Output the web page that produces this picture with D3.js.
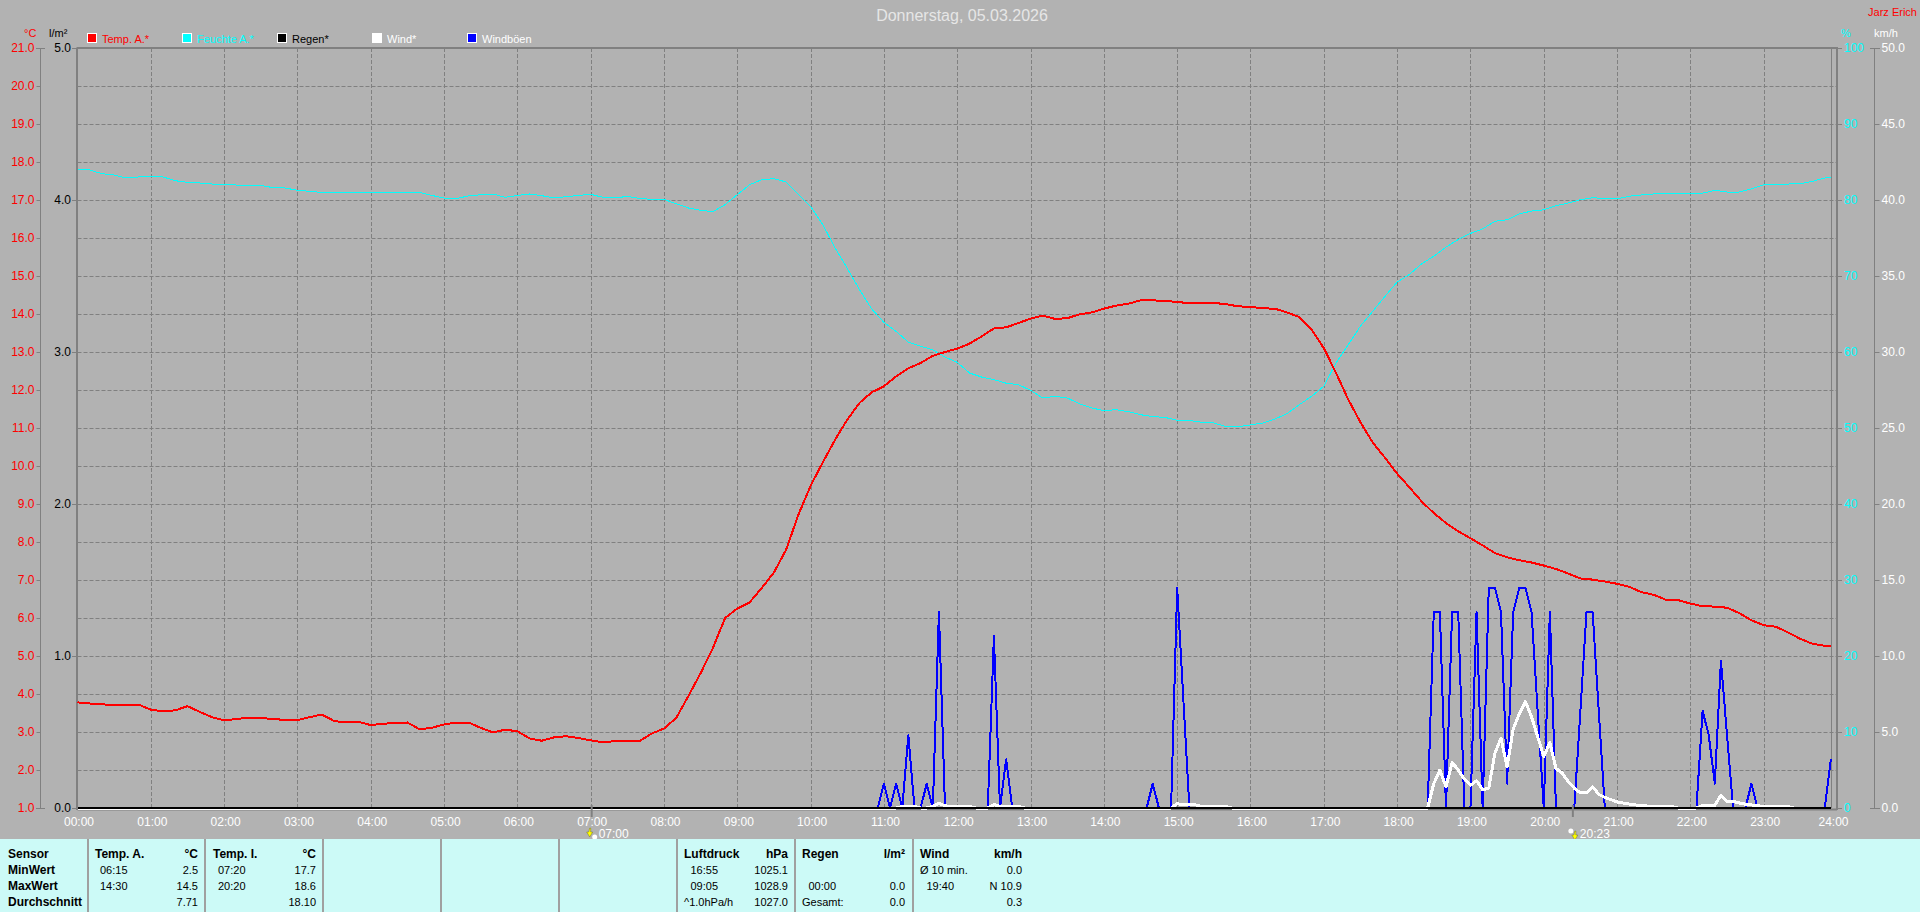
<!DOCTYPE html>
<html><head><meta charset="utf-8">
<script src="https://cdn.jsdelivr.net/npm/d3@7"></script>
<style>
html,body{margin:0;padding:0;background:#b2b2b2;overflow:hidden}
svg{display:block}
text{font-family:"Liberation Sans",Arial,sans-serif;font-size:11px}
</style></head><body>
<script>
// Temperature (°C), every 10 minutes, last sample 23:55
const tempValues=[
3.78,3.75,3.73,3.70,3.71,3.72, 3.59,3.54,3.57,3.68,3.53,3.39,
3.31,3.34,3.38,3.36,3.35,3.31, 3.31,3.39,3.46,3.29,3.25,3.27,
3.18,3.22,3.23,3.25,3.07,3.11, 3.20,3.25,3.25,3.11,2.99,3.06,
3.02,2.83,2.77,2.86,2.89,2.84, 2.78,2.73,2.76,2.75,2.76,2.96,
3.09,3.37,3.95,4.55,5.21,6.0, 6.25,6.41,6.79,7.2,7.8,8.72,
9.48,10.1,10.69,11.22,11.66,11.94, 12.1,12.36,12.57,12.71,12.9,13.0,
13.09,13.22,13.41,13.62,13.65,13.76, 13.88,13.96,13.87,13.89,13.99,14.04,
14.14,14.22,14.27,14.36,14.36,14.34, 14.32,14.28,14.28,14.29,14.26,14.2,
14.19,14.15,14.14,14.04,13.92,13.59, 13.1,12.45,11.75,11.15,10.62,10.22,
9.8,9.44,9.07,8.76,8.5,8.28, 8.1,7.91,7.71,7.6,7.52,7.46,
7.38,7.29,7.17,7.04,7.01,6.96, 6.9,6.82,6.68,6.61,6.48,6.47,
6.38,6.31,6.3,6.27,6.13,5.94, 5.81,5.77,5.62,5.45,5.32,5.27,5.27];
// Humidity (%), same sampling
const humValues=[
83.95,83.95,83.46,83.29,82.9,83.03, 83.03,83.03,82.54,82.32,82.24,82.1,
82.1,81.97,81.97,81.93,81.62,81.58, 81.27,81.14,81,81,81,81,
81,81,81,81,81,80.6, 80.26,80.2,80.53,80.7,80.79,80.35,
80.6,80.79,80.57,80.26,80.44,80.6, 80.75,80.35,80.26,80.48,80.2,80.09,
80.09,79.5,78.95,78.64,78.46,79.39, 80.7,82,82.68,82.8,82.37,80.7,
79.17,76.75,73.7,71,68.2,65.66, 63.9,62.7,61.3,60.75,60.3,59.34,
58.64,57.24,56.7,56.36,55.9,55.7, 54.96,53.95,54.17,53.95,53.2,52.63,
52.3,52.4,52.15,51.75,51.5,51.4, 51,51,50.75,50.66,50.2,50.18,
50.4,50.66,51.18,51.9,53.07,54.17, 55.5,58.55,60.96,63.4,65.35,67.3,
69.2,70.2,71.6,72.6,73.8,74.8, 75.6,76.2,77.2,77.4,78.16,78.55,
78.7,79.25,79.6,80.04,80.3,80.2, 80.13,80.5,80.66,80.8,80.9,80.9,
80.8,80.9,81.27,81.05,81.05,81.45, 82,82.1,82.1,82.15,82.46,82.9,82.9];
const sampleMinutes=d3.range(0,1440,10).concat([1435]);

// Gusts (km/h)
const gustTimes=["00:00","10:55","11:00","11:05","11:10","11:15","11:20","11:25","11:30","11:35","11:40","11:45","11:50",
"12:25","12:30","12:35","12:40","12:45","14:35","14:40","14:45","14:55","15:00","15:05","15:10",
"18:25","18:30","18:35","18:40","18:45","18:50","18:55","19:00","19:05","19:10","19:15","19:20","19:25","19:30","19:35","19:40","19:45","19:50","19:55","20:00","20:05","20:10",
"20:25","20:30","20:35","20:40","20:45","20:50","22:05","22:10","22:15","22:20","22:25","22:30","22:35","22:45","22:50","22:55","23:50","23:55"];
const gustValues=[0,0,1.6,0,1.6,0,4.8,0,0,1.6,0,12.9,0,
0,11.3,0,3.2,0,0,1.6,0,0,14.5,7.2,0,
0,12.9,12.9,0,12.9,12.9,0,0,12.9,0,14.5,14.5,12.9,1.6,12.9,14.5,14.5,12.9,6.4,0,12.9,0,
0,6.4,12.9,12.9,6.4,0,0,6.4,4.8,1.6,9.7,4.8,0,0,1.6,0,0,3.2];

// Wind (km/h)
const windTimes=["00:00","11:10","11:15","11:25","11:30","11:35","11:40","11:45","11:50","11:55","12:10","12:15","12:25","12:30","12:35","12:50","12:55","14:55","15:00","15:05","15:15","15:20","15:40","15:45",
"18:25","18:30","18:35","18:40","18:45","18:50","18:55","19:00","19:05","19:10","19:15","19:20","19:25","19:30","19:35","19:40","19:45","19:50","19:55","20:00","20:05","20:10","20:15","20:20","20:25","20:30","20:35","20:40","20:45","20:50","20:55","21:00","21:05","21:10","21:15","21:20","21:25","21:45","21:50",
"22:05","22:10","22:20","22:25","22:30","22:35","22:40","22:45","22:50","22:55","23:00","23:20","23:25"];
const windValues=[0,0,0.1,0.1,0,0,0.1,0.3,0.15,0.1,0.1,0,0,0.22,0.12,0.1,0,0,0.28,0.22,0.2,0.1,0.1,0,
0,1.6,2.5,1.4,3.0,2.5,1.9,1.5,1.8,1.2,1.3,3.6,4.6,2.7,5.2,6.2,7.0,6.0,4.7,3.4,4.3,2.6,2.3,1.75,1.3,1.0,1.0,1.4,0.9,0.7,0.55,0.4,0.33,0.26,0.2,0.15,0.13,0.1,0,
0,0.17,0.17,0.85,0.4,0.44,0.33,0.25,0.2,0.15,0.1,0.1,0];

// Rain (l/m²)
const rainTimes=["00:00","23:55"];
const rainValues=[0,0];

const hourLabels=["00:00","01:00","02:00","03:00","04:00","05:00","06:00","07:00","08:00","09:00","10:00","11:00","12:00","13:00","14:00","15:00","16:00","17:00","18:00","19:00","20:00","21:00","22:00","23:00","24:00"];
const tempTicks=[1,2,3,4,5,6,7,8,9,10,11,12,13,14,15,16,17,18,19,20,21];
const rainTicks=[0,1,2,3,4,5];
const humTicks=[0,10,20,30,40,50,60,70,80,90,100];
const windTicks=[0,5,10,15,20,25,30,35,40,45,50];
const legendNames=["Temp. A.*","Feuchte A.*","Regen*","Wind*","Windböen"];
const legendColors=["#ff0000","#00ffff","#000000","#ffffff","#0000ff"];
const legendTextColors=["#ff0000","#00ffff","#000000","#ffffff","#ffffff"];
const sunEvents=["07:00","20:23"];
const footerRows=["Sensor","MinWert","MaxWert","Durchschnitt"];

const mins=s=>{const [h,m]=s.split(":").map(Number);return h*60+m;};
const GRAY="#808080";
const L=77.5,R=1837,T=48,B=808;
const x=d3.scaleLinear().domain([0,1440]).range([L,R]);
const yTemp=d3.scaleLinear().domain([1,21]).range([B,T]);
const yRain=d3.scaleLinear().domain([0,5]).range([B,T]);
const yHum=d3.scaleLinear().domain([0,100]).range([B,T]);
const yWind=d3.scaleLinear().domain([0,50]).range([B,T]);

const svg=d3.select("body").append("svg").attr("width",1920).attr("height",912);
svg.append("rect").attr("width",1920).attr("height",912).attr("fill","#b2b2b2");

// grid
const dash="4,2";
svg.append("g").selectAll("line").data(tempTicks.slice(1,-1)).join("line")
 .attr("x1",L).attr("x2",R).attr("y1",d=>Math.round(yTemp(d))+.5).attr("y2",d=>Math.round(yTemp(d))+.5)
 .attr("stroke",GRAY).attr("stroke-dasharray",dash);
svg.append("g").selectAll("line").data(hourLabels.slice(1,-1)).join("line")
 .attr("x1",d=>Math.round(x(mins(d)))+.5).attr("x2",d=>Math.round(x(mins(d)))+.5).attr("y1",T).attr("y2",B)
 .attr("stroke",GRAY).attr("stroke-dasharray",dash);

// frame
svg.append("g").attr("stroke",GRAY).attr("fill","none").call(g=>{
 g.append("line").attr("x1",L-1).attr("x2",R+1).attr("y1",T).attr("y2",T).attr("stroke-width",2);
 g.append("line").attr("x1",77).attr("x2",77).attr("y1",T).attr("y2",B+2).attr("stroke-width",2);
 g.append("line").attr("x1",R).attr("x2",R).attr("y1",T).attr("y2",B+2).attr("stroke-width",2);
 g.append("line").attr("x1",L).attr("x2",R).attr("y1",B+1.5).attr("y2",B+1.5).attr("stroke-width",2);
 g.append("line").attr("x1",Math.round(x(1435))+.5).attr("x2",Math.round(x(1435))+.5).attr("y1",T).attr("y2",B).attr("stroke-width",1);
});

function styleAxis(g,color){
 g.select(".domain").remove();
 g.selectAll(".tick line").attr("stroke",GRAY);
 g.selectAll(".tick text").attr("fill",color).style("font-size","12px");
}
// left axes
svg.append("g").attr("transform","translate(40.5,0)")
 .call(d3.axisLeft(yTemp).tickValues(tempTicks).tickFormat(d3.format(".1f")).tickSize(4).tickPadding(2))
 .call(g=>styleAxis(g,"#ff0000"));
svg.append("g").attr("transform","translate(77,0)")
 .call(d3.axisLeft(yRain).tickValues(rainTicks).tickFormat(d3.format(".1f")).tickSize(5).tickPadding(1))
 .call(g=>styleAxis(g,"#000000"));
// right axes
svg.append("g").attr("transform","translate(1838,0)")
 .call(d3.axisRight(yHum).tickValues(humTicks).tickFormat(d3.format("d")).tickSize(4).tickPadding(2))
 .call(g=>styleAxis(g,"#00ffff"));
svg.append("g").attr("transform","translate(1874.5,0)")
 .call(d3.axisRight(yWind).tickValues(windTicks).tickFormat(d3.format(".1f")).tickSize(5).tickPadding(2))
 .call(g=>styleAxis(g,"#ffffff"));
// axis spines
[[40.5,36,45],[1874.5,1870,1880]].forEach(([ax,a,b])=>{
 const g=svg.append("g").attr("stroke",GRAY);
 g.append("line").attr("x1",ax).attr("x2",ax).attr("y1",T).attr("y2",B);
 g.append("line").attr("x1",a).attr("x2",b).attr("y1",T+.5).attr("y2",T+.5);
 g.append("line").attr("x1",a).attr("x2",b).attr("y1",B+.5).attr("y2",B+.5);
});

// bottom axis
svg.append("g").attr("transform",`translate(0,${B+9})`)
 .call(d3.axisBottom(x).tickValues(hourLabels.map(mins)).tickFormat((d,i)=>hourLabels[i]).tickSize(0).tickPadding(0))
 .call(g=>{g.select(".domain").remove();
  g.selectAll(".tick text").attr("fill","#ffffff").style("font-size","12px").attr("dx",d=>d===1440?-4:1);});

// series
const crisp=sel=>sel.attr("fill","none").attr("shape-rendering","crispEdges").attr("stroke-linejoin","round");
const lineOf=(xs,ys,yScale)=>d3.line().x((d,i)=>x(xs[i])).y((d,i)=>yScale(ys[i]))(ys);
svg.append("path").attr("d",lineOf(sampleMinutes,humValues,yHum)).attr("stroke","#00ffff").attr("stroke-width",1).call(crisp);
svg.append("path").attr("d",lineOf(gustTimes.map(mins),gustValues,yWind)).attr("stroke","#0000ff").attr("stroke-width",2).call(crisp);
svg.append("path").attr("d",lineOf(windTimes.map(mins),windValues,yWind)).attr("stroke","#ffffff").attr("stroke-width",3).call(crisp);
svg.append("path").attr("d",lineOf(sampleMinutes,tempValues,yTemp)).attr("stroke","#ff0000").attr("stroke-width",2).call(crisp);
svg.append("path").attr("d",lineOf(rainTimes.map(mins),rainValues,yRain)).attr("stroke","#000000").attr("stroke-width",2).call(crisp);

// headers
const txt=(t,px,py,color,anchor,size,weight)=>svg.append("text").text(t).attr("x",px).attr("y",py)
 .attr("fill",color||"#000").attr("text-anchor",anchor||"start").attr("dominant-baseline","central")
 .style("font-size",(size||11)+"px").style("font-weight",weight||"normal");
txt("Donnerstag, 05.03.2026",962,15,"#e6e6e6","middle",16);
txt("Jarz Erich",1917,12,"#ff0000","end",11);
txt("°C",24,33,"#ff0000");
txt("l/m²",49,33,"#000000");
txt("%",1841,33,"#00ffff");
txt("km/h",1874,33,"#ffffff");

// legend
const legendX=d3.scalePoint().domain(legendNames).range([87,467]);
const lg=svg.append("g").selectAll("g").data(legendNames).join("g").attr("transform",d=>`translate(${legendX(d)},33)`);
lg.append("rect").attr("x",.5).attr("y",.5).attr("width",9).attr("height",9).attr("fill",(d,i)=>legendColors[i]).attr("stroke","#ffffff");
lg.append("text").text(d=>d).attr("x",15).attr("y",5.5).attr("dominant-baseline","central").attr("fill",(d,i)=>legendTextColors[i]);

// sunrise / sunset markers
sunEvents.forEach((s,i)=>{
 const px=x(mins(s));
 svg.append("line").attr("x1",px+1).attr("x2",px+1).attr("y1",B-3).attr("y2",B+9).attr("stroke",GRAY).attr("stroke-width",2);
 txt(s,px+8,834,"#ffffff","start",12);
 const arrowX=i===0?px-1:px+3, arrowY=i===0?832:835, dotX=i===0?px+4:px-1, dotY=i===0?837:831;
 svg.append("path").attr("d",`M${arrowX-3},${arrowY} h2 l1,-4 h1 l0,4 h2 l-3,5 z`).attr("fill","#ffff00").attr("stroke","#5a5a20").attr("stroke-width",.4);
 svg.append("circle").attr("cx",dotX).attr("cy",dotY).attr("r",2.5).attr("fill","#ffffff");
});

// footer panel
svg.append("rect").attr("x",0).attr("y",839).attr("width",1920).attr("height",73).attr("fill","#ccfaf7");
const seps=[88,205,323,441,559,677,795,913];
svg.append("g").selectAll("line").data(seps).join("line").attr("x1",d=>d).attr("x2",d=>d).attr("y1",839).attr("y2",912).attr("stroke","#a0a0a0").attr("stroke-width",2);
const rowY=[854,870,886,902];
footerRows.forEach((r,i)=>txt(r,8,rowY[i],"#000","start",12,"bold"));
const cols=[
 {x:95,tx:100,rx:198,head:"Temp. A.",unit:"°C",times:["06:15","14:30",""],vals:["2.5","14.5","7.71"]},
 {x:213,tx:218,rx:316,head:"Temp. I.",unit:"°C",times:["07:20","20:20",""],vals:["17.7","18.6","18.10"]},
 {x:684,tx:690.5,rx:788,head:"Luftdruck",unit:"hPa",times:["16:55","09:05",""],vals:["1025.1","1028.9","1027.0"]},
 {x:802,tx:808.5,rx:905,head:"Regen",unit:"l/m²",times:["","00:00",""],vals:["","0.0","0.0"]},
 {x:920,tx:926.5,rx:1022,head:"Wind",unit:"km/h",times:["","19:40",""],vals:["0.0","N 10.9","0.3"]}];
cols.forEach(c=>{
 txt(c.head,c.x,rowY[0],"#000","start",12,"bold");
 txt(c.unit,c.rx,rowY[0],"#000","end",12,"bold");
 c.times.forEach((t,i)=>{if(t)txt(t,c.tx,rowY[i+1]);});
 c.vals.forEach((v,i)=>{if(v)txt(v,c.rx,rowY[i+1],"#000","end");});
});
txt("^1.0hPa/h",684,rowY[3]);
txt("Gesamt:",802,rowY[3]);
txt("Ø 10 min.",920,rowY[1]);
</script>
</body></html>
